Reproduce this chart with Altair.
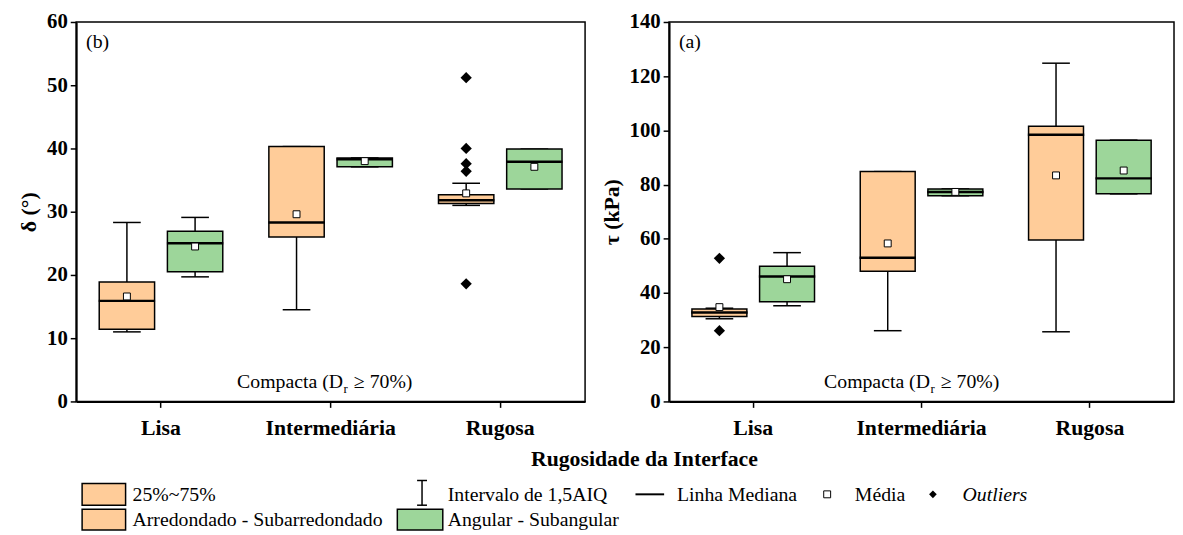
import altair as alt
import pandas as pd

categories = ["Lisa", "Intermediária", "Rugosa"]
groups = ["Arredondado - Subarredondado", "Angular - Subangular"]
box_cat = ["Lisa", "Lisa", "Intermediária", "Intermediária", "Rugosa", "Rugosa"]
box_grp = [groups[0], groups[1]] * 3

# (b) delta (degrees)
d_wlo = [11.0, 19.7, 14.5, 37.1, 31.0, 33.6]
d_q1 = [11.4, 20.5, 26.0, 37.1, 31.3, 33.6]
d_med = [15.9, 25.0, 28.3, 38.3, 31.8, 37.9]
d_q3 = [18.9, 26.9, 40.3, 38.5, 32.7, 39.9]
d_whi = [28.3, 29.1, 40.3, 38.5, 34.5, 39.9]
d_mean = [16.6, 24.5, 29.6, 38.0, 32.9, 37.1]
d_out_cat = ["Rugosa"] * 5
d_out_grp = [groups[0]] * 5
d_out_val = [51.2, 40.0, 37.6, 36.4, 18.6]

# (a) tau (kPa)
t_wlo = [30.5, 35.3, 26.1, 75.9, 25.7, 76.6]
t_q1 = [31.3, 36.8, 48.0, 75.9, 59.6, 76.6]
t_med = [32.8, 46.1, 53.0, 77.3, 98.4, 82.3]
t_q3 = [34.1, 49.9, 84.8, 78.4, 101.5, 96.4]
t_whi = [34.4, 54.9, 84.8, 78.4, 124.8, 96.4]
t_mean = [34.8, 45.1, 58.3, 77.3, 83.4, 85.2]
t_out_cat = ["Lisa", "Lisa"]
t_out_grp = [groups[0], groups[0]]
t_out_val = [52.8, 26.1]

ORANGE = "#FFCC99"
GREEN = "#9DD69A"
FONT = "'Liberation Serif', 'Times New Roman', Times, 'DejaVu Serif', serif"
H = 384


def txt(t):
    return pd.DataFrame({"t": [t]})


def panel(wlo, q1, med, q3, whi, mean, oc, og, ov, ymax, ystep, ytitle, tag, width, cx, legend=False):
    df = pd.DataFrame({"cat": box_cat, "grp": box_grp, "wlo": wlo, "q1": q1,
                       "med": med, "q3": q3, "whi": whi, "mean": mean})
    odf = pd.DataFrame({"cat": oc, "grp": og, "val": ov})
    x = alt.X("cat:N", sort=categories,
              scale=alt.Scale(domain=categories, paddingInner=0, paddingOuter=0),
              axis=alt.Axis(title=None, labelFont=FONT, labelFontWeight="bold", labelFontSize=22,
                            labelAngle=0, labelColor="black", ticks=True, tickSize=6, tickColor="black",
                            tickWidth=1.5, labelPadding=10, domainColor="black", domainWidth=2))
    xo = alt.XOffset("grp:N", sort=groups,
                     scale=alt.Scale(domain=groups, paddingInner=0.188, paddingOuter=0.338))
    ysc = alt.Scale(domain=[0, ymax], nice=False, zero=True)
    yax = alt.Axis(values=list(range(0, ymax + 1, ystep)), title=ytitle, grid=False,
                   labelFont=FONT, labelFontWeight="bold", labelFontSize=21, labelColor="black",
                   titleFont=FONT, titleFontWeight="bold", titleFontSize=22, titleColor="black",
                   titlePadding=6, tickSize=6, tickColor="black", tickWidth=1.5, labelPadding=3,
                   domainColor="black", domainWidth=2)
    base = alt.Chart(df)
    whisk = base.mark_rule(color="black", strokeWidth=1.5).encode(
        x=x, xOffset=xo, y=alt.Y("wlo:Q", scale=ysc, axis=yax), y2="whi:Q")
    cap_lo = base.mark_tick(color="black", size=28, thickness=1.5, opacity=1).encode(
        x="cat:N", xOffset=xo, y="wlo:Q")
    cap_hi = base.mark_tick(color="black", size=28, thickness=1.5, opacity=1).encode(
        x="cat:N", xOffset=xo, y="whi:Q")
    box = base.mark_bar(stroke="black", strokeWidth=1.5, opacity=1).encode(
        x="cat:N", xOffset=xo, y="q1:Q", y2="q3:Q",
        color=alt.Color("grp:N", scale=alt.Scale(domain=groups, range=[ORANGE, GREEN]), legend=None))
    medl = base.mark_tick(color="black", size=57, thickness=2.5, opacity=1).encode(
        x="cat:N", xOffset=xo, y="med:Q")
    meanm = base.mark_square(size=49, fill="white", stroke="black", strokeWidth=1, opacity=1).encode(
        x="cat:N", xOffset=xo, y="mean:Q")
    outm = alt.Chart(odf).mark_point(shape="diamond", filled=True, color="black", size=130, opacity=1).encode(
        x="cat:N", xOffset=xo, y="val:Q")
    tagm = alt.Chart(txt(tag)).mark_text(font=FONT, fontSize=20, align="left", baseline="alphabetic",
                                          color="black").encode(
        text="t:N", x=alt.value(10), y=alt.value(26))
    comp1 = alt.Chart(txt("Compacta (D")).mark_text(font=FONT, fontSize=20, align="right",
                                                    baseline="alphabetic", color="black").encode(
        text="t:N", x=alt.value(cx), y=alt.value(370))
    comp2 = alt.Chart(txt("r")).mark_text(font=FONT, fontSize=13, align="left",
                                          baseline="alphabetic", color="black").encode(
        text="t:N", x=alt.value(cx + 0.5), y=alt.value(375))
    comp3 = alt.Chart(txt("≥ 70%)")).mark_text(font=FONT, fontSize=20, align="left",
                                                baseline="alphabetic", color="black").encode(
        text="t:N", x=alt.value(cx + 11), y=alt.value(370))
    layers = [whisk, cap_lo, cap_hi, box, medl, meanm, outm, tagm, comp1, comp2, comp3]

    if legend:
        def rect(x1, x2, y1, y2, fill):
            return alt.Chart(txt("")).mark_rect(fill=fill, stroke="black", strokeWidth=1.5).encode(
                x=alt.value(x1), x2=alt.value(x2), y=alt.value(y1), y2=alt.value(y2))

        def rule(x1, x2, y1, y2, w=1.5):
            return alt.Chart(txt("")).mark_rule(color="black", strokeWidth=w).encode(
                x=alt.value(x1), x2=alt.value(x2), y=alt.value(y1), y2=alt.value(y2))

        def label(t, xx, yy, style="normal", weight="normal", size=20, align="left"):
            return alt.Chart(txt(t)).mark_text(font=FONT, fontSize=size, align=align, baseline="alphabetic",
                                               fontStyle=style, fontWeight=weight, color="black").encode(
                text="t:N", x=alt.value(xx), y=alt.value(yy))

        layers += [
            label("Rugosidade da Interface", 575, 449, weight="bold", size=22, align="center"),
            rect(6, 50, 467, 489, ORANGE),
            label("25%~75%", 57, 485),
            rect(6, 50, 493, 514, ORANGE),
            label("Arredondado - Subarredondado", 57, 510),
            rule(350, 350, 464, 489),
            rule(345, 355, 464, 464),
            rule(345, 355, 489, 489),
            label("Intervalo de 1,5AIQ", 376, 485),
            rect(325, 371, 493, 514, GREEN),
            label("Angular - Subangular", 376, 510),
            rule(566, 595, 478, 478, 2),
            label("Linha Mediana", 608, 485),
            alt.Chart(txt("")).mark_square(size=49, fill="white", stroke="black", strokeWidth=1,
                                           opacity=1).encode(x=alt.value(760), y=alt.value(478)),
            label("Média", 788, 485),
            alt.Chart(txt("")).mark_point(shape="diamond", filled=True, color="black", size=60,
                                          opacity=1).encode(x=alt.value(867), y=alt.value(478)),
            label("Outliers", 897, 485, style="italic"),
        ]
    return alt.layer(*layers).properties(width=width, height=H)


left = panel(d_wlo, d_q1, d_med, d_q3, d_whi, d_mean, d_out_cat, d_out_grp, d_out_val,
             60, 10, "δ (°)", "(b)", 515, 270, legend=True)
right = panel(t_wlo, t_q1, t_med, t_q3, t_whi, t_mean, t_out_cat, t_out_grp, t_out_val,
              140, 20, "τ (kPa)", "(a)", 511, 264)

chart = alt.hconcat(left, right, spacing=85, bounds="flush").resolve_scale(
    y="independent", x="independent", color="shared", xOffset="independent"
).properties(
    padding={"left": 9, "top": -1, "right": 0, "bottom": 0},
    background="white",
).configure_view(stroke="black", strokeWidth=1.5)

chart.save("out.html", embed_options={"renderer": "svg", "actions": False})
